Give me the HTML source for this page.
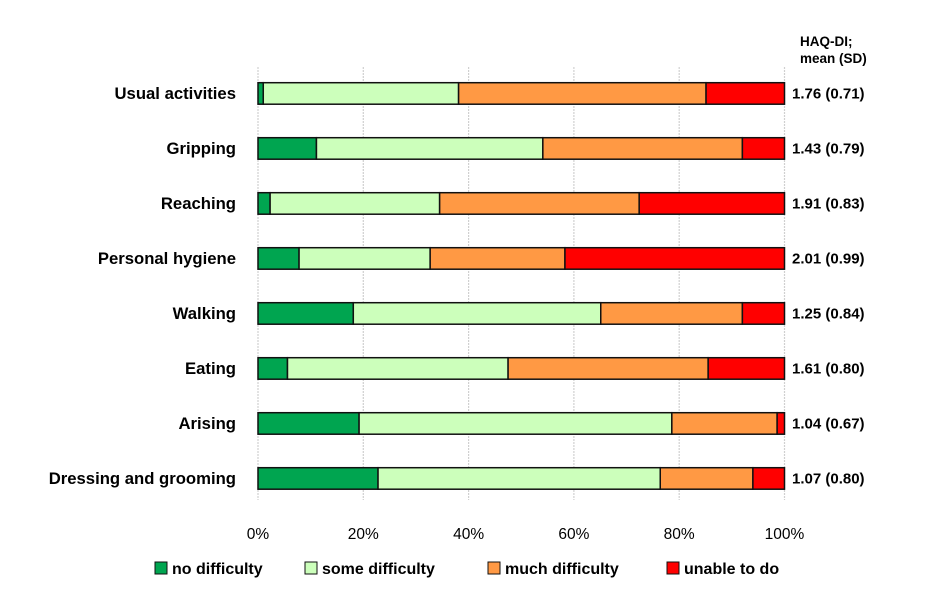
<!DOCTYPE html>
<html><head><meta charset="utf-8"><style>
body{margin:0;background:#fff}
svg{display:block}
text{font-family:"Liberation Sans",sans-serif;font-weight:bold;fill:#000}
</style></head><body>
<svg id="chart" width="930" height="608" viewBox="0 0 930 608" xmlns="http://www.w3.org/2000/svg">
<g id="grid"></g>
<g id="bars"></g>
<g id="labels"></g>
<g id="vals"></g>
<g id="ticks"></g>
<text x="800" y="46" font-size="13.5">HAQ-DI;</text>
<text x="800" y="63" font-size="13.5">mean (SD)</text>
<g id="legend"></g>
</svg>
<script>
const categories=["Usual activities","Gripping","Reaching","Personal hygiene","Walking","Eating","Arising","Dressing and grooming"];
const noDifficulty=[1.0,11.1,2.3,7.8,18.1,5.6,19.2,22.8];
const someDifficulty=[37.1,43.0,32.2,24.9,47.0,41.9,59.4,53.6];
const muchDifficulty=[47.0,37.9,37.9,25.6,26.9,38.0,20.0,17.6];
const unableToDo=[14.9,8.0,27.6,41.7,8.0,14.5,1.4,6.0];
const haqValues=["1.76 (0.71)","1.43 (0.79)","1.91 (0.83)","2.01 (0.99)","1.25 (0.84)","1.61 (0.80)","1.04 (0.67)","1.07 (0.80)"];
const tickValues=[0,20,40,60,80,100];
const seriesNames=["no difficulty","some difficulty","much difficulty","unable to do"];
const colors=["#00a550","#ccffbb","#ff9944","#ff0000"];
const NS="http://www.w3.org/2000/svg";
const x0=258,x1=784.5,yTop0=82.7,step=55,bh=21.5;
const xs=v=>x0+(x1-x0)*v/100;
const yr=i=>yTop0+i*step;
function mk(t,a,p){const e=document.createElementNS(NS,t);for(const k in a)e.setAttribute(k,a[k]);p.appendChild(e);return e;}
const grid=document.getElementById('grid');
tickValues.forEach(t=>{const l=mk('line',{x1:xs(t),x2:xs(t),y1:67,y2:500,stroke:'#d0d0d0','stroke-width':1.2,'stroke-dasharray':'2,1'},grid);


const tx=mk('text',{x:xs(t),y:539,'font-size':15.5,'text-anchor':'middle'},document.getElementById('ticks'));
tx.style.fontWeight='normal';tx.textContent=t+'%';

});
const series=[noDifficulty,someDifficulty,muchDifficulty,unableToDo];
const bars=document.getElementById('bars');
categories.forEach((c,i)=>{let acc=0;
series.forEach((s,j)=>{const r=mk('rect',{x:xs(acc),y:yr(i),width:xs(acc+s[i])-xs(acc),height:bh,fill:colors[j],stroke:'#111','stroke-width':1.5},bars);

acc+=s[i];});
const lb=mk('text',{x:236,y:yr(i)+bh/2+5.5,'font-size':16.7,'text-anchor':'end'},document.getElementById('labels'));lb.textContent=c;


const v=mk('text',{x:792,y:yr(i)+bh/2+5,'font-size':15},document.getElementById('vals'));v.textContent=haqValues[i];

});
const lg=document.getElementById('legend');const lx=[155,305,488,667];
seriesNames.forEach((n,j)=>{const r=mk('rect',{x:lx[j],y:562,width:12,height:12,fill:colors[j],stroke:'#111','stroke-width':1},lg);


const t=mk('text',{x:lx[j]+17,y:574,'font-size':16},lg);t.textContent=n;

});
</script>
</body></html>
